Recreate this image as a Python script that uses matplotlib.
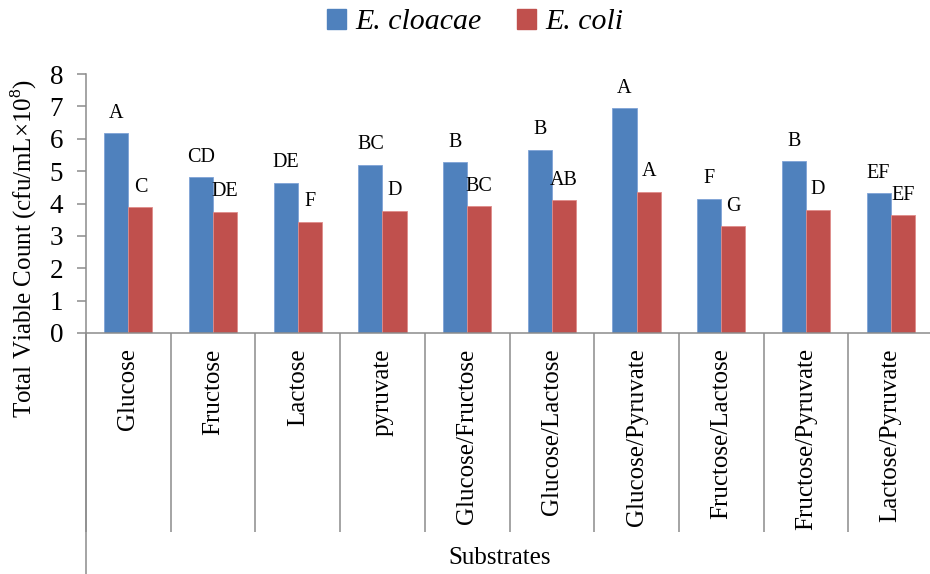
import numpy as np
import matplotlib
matplotlib.use('Agg')
import matplotlib.pyplot as plt
from matplotlib.patches import Patch

plt.rcParams['font.family'] = ['Liberation Serif', 'DejaVu Serif']
plt.rcParams['mathtext.fontset'] = 'custom'
plt.rcParams['mathtext.rm'] = 'Liberation Serif'

# data
substrates = ['Glucose', 'Fructose', 'Lactose', 'pyruvate', 'Glucose/Fructose',
              'Glucose/Lactose', 'Glucose/Pyruvate', 'Fructose/Lactose',
              'Fructose/Pyruvate', 'Lactose/Pyruvate']
cloacae = [6.17, 4.81, 4.64, 5.20, 5.28, 5.66, 6.94, 4.14, 5.31, 4.31]
coli = [3.89, 3.74, 3.44, 3.78, 3.92, 4.10, 4.37, 3.29, 3.80, 3.64]
cloacae_letters = ['A', 'CD', 'DE', 'BC', 'B', 'B', 'A', 'F', 'B', 'EF']
coli_letters = ['C', 'DE', 'F', 'D', 'BC', 'AB', 'A', 'G', 'D', 'EF']

blue = '#4F81BD'
red = '#C0504D'
grey = '#8C8C8C'

fig = plt.figure(figsize=(9.30, 5.74), dpi=100)
ax = fig.add_axes([86/930, 241/574, 847/930, 259/574])

x = np.arange(len(substrates))
w = 0.285
ax.bar(x - w/2, cloacae, w, color=blue, edgecolor='#7FA3D6', linewidth=0.6)
ax.bar(x + w/2, coli, w, color=red, edgecolor='#E08C8A', linewidth=0.6)

# significance letters
off = 20 * 8 / 259
for i in range(len(x)):
    ax.text(x[i] - w/2, cloacae[i] + off, cloacae_letters[i], ha='center', va='center', fontsize=14.5)
    ax.text(x[i] + w/2, coli[i] + off, coli_letters[i], ha='center', va='center', fontsize=14.5)

ax.set_ylim(0, 8)
ax.set_xlim(-0.5, len(substrates) - 0.5)
ax.set_yticks(range(0, 9))
ax.tick_params(axis='y', labelsize=19.5, length=6.5, width=1.1, color=grey, pad=10)

# category dividers as long ticks, names on minor ticks
ax.set_xticks(np.arange(-0.5, len(substrates)), minor=False)
ax.set_xticklabels([])
ax.tick_params(axis='x', which='major', length=143, width=1.1, color=grey, direction='out')
ax.set_xticks(x, minor=True)
ax.set_xticklabels(substrates, minor=True, rotation=90, fontsize=18)
ax.tick_params(axis='x', which='minor', length=0, pad=11)

for s in ['top', 'right', 'left']:
    ax.spines[s].set_visible(False)
ax.spines['bottom'].set_color(grey)
ax.spines['bottom'].set_linewidth(1.1)
ax.plot([0, 0], [-241/259, 1], transform=ax.transAxes, color=grey, lw=1.1, clip_on=False)

fig.text(24/930, 1 - 248/574, r'Total Viable Count (cfu/mL×$10^{8}$)', rotation=90,
         ha='center', va='center', fontsize=18)
fig.text(500/930, 1 - 558/574, 'Substrates', ha='center', va='center', fontsize=18)

handles = [Patch(color=blue), Patch(color=red)]
fig.legend(handles, ['E. cloacae', 'E. coli'], loc='center', bbox_to_anchor=(475/930, 1 - 22/574),
           ncol=2, frameon=False, prop={'size': 21.5, 'style': 'italic'},
           handlelength=0.65, handleheight=0.65, handletextpad=0.3, columnspacing=1.2)

fig.savefig('out.png', dpi=100)
